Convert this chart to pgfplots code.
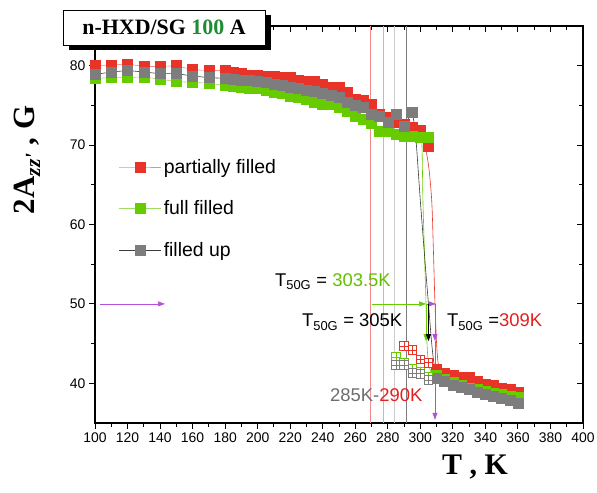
\documentclass[border=0pt]{standalone}
\usepackage{fontspec}
\setmainfont{Liberation Sans}
\newfontfamily\serif{Liberation Serif}
\usepackage{pgfplots}
\pgfplotsset{compat=1.18}
\usetikzlibrary{arrows.meta}

\definecolor{pfred}{RGB}{232,52,40}
\definecolor{pfredl}{RGB}{242,140,140}
\definecolor{ffgreen}{RGB}{102,204,0}
\definecolor{ffgreenl}{RGB}{160,220,100}
\definecolor{fugray}{RGB}{125,125,125}
\definecolor{fugrayd}{RGB}{60,60,60}
\definecolor{arrpurple}{RGB}{178,80,220}
\definecolor{titlegreen}{RGB}{30,140,50}
\definecolor{txtgreen}{RGB}{100,190,0}
\definecolor{txtred}{RGB}{230,30,30}
\definecolor{txtgray}{RGB}{110,110,110}

% open square with a cross inside
\pgfdeclareplotmark{gridsq}{%
  \pgfpathrectangle{\pgfqpoint{-\pgfplotmarksize}{-\pgfplotmarksize}}%
    {\pgfqpoint{2\pgfplotmarksize}{2\pgfplotmarksize}}%
  \pgfusepathqfillstroke
  \pgfpathmoveto{\pgfqpoint{-\pgfplotmarksize}{0pt}}%
  \pgfpathlineto{\pgfqpoint{\pgfplotmarksize}{0pt}}%
  \pgfpathmoveto{\pgfqpoint{0pt}{-\pgfplotmarksize}}%
  \pgfpathlineto{\pgfqpoint{0pt}{\pgfplotmarksize}}%
  \pgfusepathqstroke}

\begin{document}
\begin{tikzpicture}
\path[use as bounding box] (0,0) rectangle (597bp,493bp);

\pgfplotsset{
  frame/.style={
    at={(95bp,70bp)}, anchor=south west, scale only axis,
    width=488bp, height=397bp,
    xmin=100, xmax=400, ymin=35, ymax=85,
    xtick={100,120,...,400}, ytick={40,50,...,80},
    minor x tick num=1, minor y tick num=1,
    major tick length=6bp, minor tick length=4bp,
    axis line style={line width=1.1bp},
    every tick/.style={black, line width=0.9bp},
  }
}

% inward ticks on the top and right edges
\begin{axis}[frame, xtick pos=upper, ytick pos=right, tick align=inside,
  xticklabels={}, yticklabels={}]
\end{axis}

\begin{axis}[frame, xtick pos=lower, ytick pos=left, tick align=outside,
  tick label style={font=\fontsize{14}{16}\selectfont},
  /pgf/number format/assume math mode=true,
  unbounded coords=jump,
  legend style={draw=none, fill=none, at={(axis description cs:0.043,0.675)},
    anchor=north west, row sep=22bp,
    font=\fontsize{19.5}{21}\selectfont},
  legend cell align=left,
  legend image code/.code={%
    \draw[mark repeat=2,mark phase=2,#1] plot coordinates {(0bp,0bp) (21bp,0bp) (42bp,0bp)};},
]

% reference lines of the transition onset
\addplot[forget plot, pfredl, line width=0.7bp] coordinates {(269.5,35) (269.5,85)};
\addplot[forget plot, ffgreenl, line width=0.7bp] coordinates {(277,35) (277,85)};
\addplot[forget plot, black!20, line width=0.7bp] coordinates {(284,35) (284,85)};
\addplot[forget plot, fugray, line width=0.7bp] coordinates {(291.5,35) (291.5,85)};

% partially filled
\addplot[pfredl, line width=0.6bp, mark=square*, mark size=5bp,
  mark options={draw=pfred, fill=pfred}] coordinates {
(100,80.0) (110,80.1) (120,80.2) (130,79.9) (140,79.9) (150,80.0) (160,79.5)
(170,79.4) (180,79.4) (185,79.2) (190,79.0) (195,78.8) (200,78.8) (205,78.7)
(210,78.7) (215,78.6) (220,78.5) (225,78.2) (230,78.0) (235,78.0) (240,77.6)
(245,77.3) (250,77.3) (255,76.7) (260,75.8) (265,75.6) (270,75.2) (275,73.9)
(280,73.5) (285,72.9) (290,72.6) (295,72.3) (300,71.9) (305,69.9)
(307,nan)
(310,41.8) (315,41.3) (320,41.0) (325,40.7) (330,40.8) (335,40.3) (340,39.9)
(345,39.8) (350,39.4) (355,39.2) (360,38.9)};
\addlegendentry{partially filled}

% full filled
\addplot[ffgreenl, line width=0.6bp, mark=square*, mark size=5bp,
  mark options={draw=ffgreen, fill=ffgreen}] coordinates {
(100,78.4) (110,78.5) (120,78.5) (130,78.6) (140,78.3) (150,78.0) (160,77.9)
(170,77.8) (180,77.5) (185,77.4) (190,77.3) (195,77.2) (200,77.1) (205,76.9)
(210,76.7) (215,76.5) (220,76.2) (225,76.0) (230,75.8) (235,75.4) (240,75.2)
(245,75.1) (250,74.8) (255,74.2) (260,73.6) (265,73.2) (270,72.7) (275,71.8)
(280,71.8) (285,71.4) (290,71.1) (295,71.1) (300,71.0) (305,71.0)
(307,nan)
(310,41.0) (315,40.5) (320,40.1) (325,39.8) (330,39.4) (335,39.2) (340,39.0)
(345,38.8) (350,38.6) (355,38.4) (360,38.2)};
\addlegendentry{full filled}

% filled up
\addplot[fugrayd, line width=0.6bp, mark=square*, mark size=5bp,
  mark options={draw=fugray, fill=fugray}] coordinates {
(100,78.9) (110,79.2) (120,79.4) (130,79.2) (140,79.0) (150,79.0) (160,78.7)
(170,78.5) (180,78.4) (185,78.3) (190,78.2) (195,78.1) (200,78.0) (205,77.9)
(210,77.7) (215,77.5) (220,77.3) (225,77.1) (230,76.9) (235,76.8) (240,76.5)
(245,76.3) (250,76.0) (255,75.4) (260,75.0) (265,74.8) (270,73.9) (275,73.6)
(280,72.9) (285,73.9) (290,72.4) (295,74.1)
(302,nan)
(310,40.6) (315,40.2) (320,39.8) (325,39.5) (330,39.2) (335,38.9) (340,38.6)
(345,38.4) (350,38.1) (355,37.8) (360,37.5)};
\addlegendentry{filled up}

% cooling points
\addplot[forget plot, only marks, mark=gridsq, mark size=4.3bp,
  mark options={draw=ffgreen, fill=white, line width=0.7bp}] coordinates {
(285,43.3) (290,42.6) (295,41.9) (300,41.5) (305,40.9)};
\addplot[forget plot, only marks, mark=gridsq, mark size=4.3bp,
  mark options={draw=fugray, fill=white, line width=0.7bp}] coordinates {
(285,42.3) (290,42.3) (295,41.3) (300,41.2) (305,40.4)};
\addplot[forget plot, only marks, mark=gridsq, mark size=4.3bp,
  mark options={draw=pfred, fill=white, line width=0.7bp}] coordinates {
(290,44.7) (295,44.2) (300,43.0) (305,42.6)};

% drop curves
\addplot[forget plot, pfred, line width=0.6bp, smooth] coordinates {
(298,72.4) (302,70.6) (305,67.5) (307,63) (308,57) (309,50) (310,45) (311,42.5) (313,41.5)};
\addplot[forget plot, ffgreen, line width=0.6bp, smooth] coordinates {
(300,71.2) (301,70) (301.6,63) (302.6,56) (303.5,50) (304,45.5) (305,42.5) (307,41.2)};
\addplot[forget plot, fugrayd, line width=0.6bp, smooth] coordinates {
(295,74.0) (297,71.5) (300,63) (303,55) (305,50) (307,45) (308.5,42.3) (310,40.8) (313,40.3)};

% half-height markers
\addplot[forget plot, arrpurple, line width=0.7bp, -{Triangle[length=7bp,width=5bp]}]
  coordinates {(103,50) (143,50)};
\addplot[forget plot, ffgreen, line width=0.7bp, -{Triangle[length=7bp,width=5bp]}]
  coordinates {(270,50) (303.5,50)};
\addplot[forget plot, arrpurple, line width=0.7bp, -{Triangle[length=7bp,width=5bp]}]
  coordinates {(303.5,50) (309.5,50)};
\addplot[forget plot, ffgreen, line width=0.7bp, -{Triangle[length=7bp,width=5bp]}]
  coordinates {(303.5,50) (303.5,45.3)};
\addplot[forget plot, black, line width=0.7bp, -{Triangle[length=7bp,width=5bp]}]
  coordinates {(305,50) (305,45.3)};
\addplot[forget plot, arrpurple, line width=0.7bp, -{Triangle[length=7bp,width=5bp]}]
  coordinates {(309,50) (309,45.3)};
\addplot[forget plot, arrpurple, line width=0.7bp, -{Triangle[length=7bp,width=5bp]}]
  coordinates {(309,45.3) (309,35.4)};

\node[anchor=west, font=\fontsize{18.5}{20}\selectfont, inner sep=0]
  at (axis cs:210.6,52.8) {T\textsubscript{50G} = \textcolor{txtgreen}{303.5K}};
\node[anchor=west, font=\fontsize{18.5}{20}\selectfont, inner sep=0]
  at (axis cs:227.2,47.7) {T\textsubscript{50G} = 305K};
\node[anchor=west, font=\fontsize{18.5}{20}\selectfont, inner sep=0]
  at (axis cs:316.4,47.7) {T\textsubscript{50G} =\textcolor{txtred}{309K}};
\node[anchor=west, font=\fontsize{18.5}{20}\selectfont, inner sep=0]
  at (axis cs:244.4,38.5) {\textcolor{txtgray}{285K-}\textcolor{txtred}{290K}};
\end{axis}

% axis titles
\node[font=\serif\bfseries\fontsize{30}{32}\selectfont] at (475bp,26bp) {T , K};
\node[rotate=90, font=\serif\bfseries\fontsize{31}{33}\selectfont] at (27bp,333bp)
  {2A\textsubscript{\itshape zz'} , G};

% sample label
\fill[black] (69bp,443bp) rectangle (271bp,478bp);
\draw[fill=white, line width=0.8bp] (63bp,448bp) rectangle (265bp,483bp);
\node[font=\serif\bfseries\fontsize{22}{24}\selectfont] at (164bp,465.5bp)
  {n-HXD/SG \textcolor{titlegreen}{100} A};
\end{tikzpicture}
\end{document}
